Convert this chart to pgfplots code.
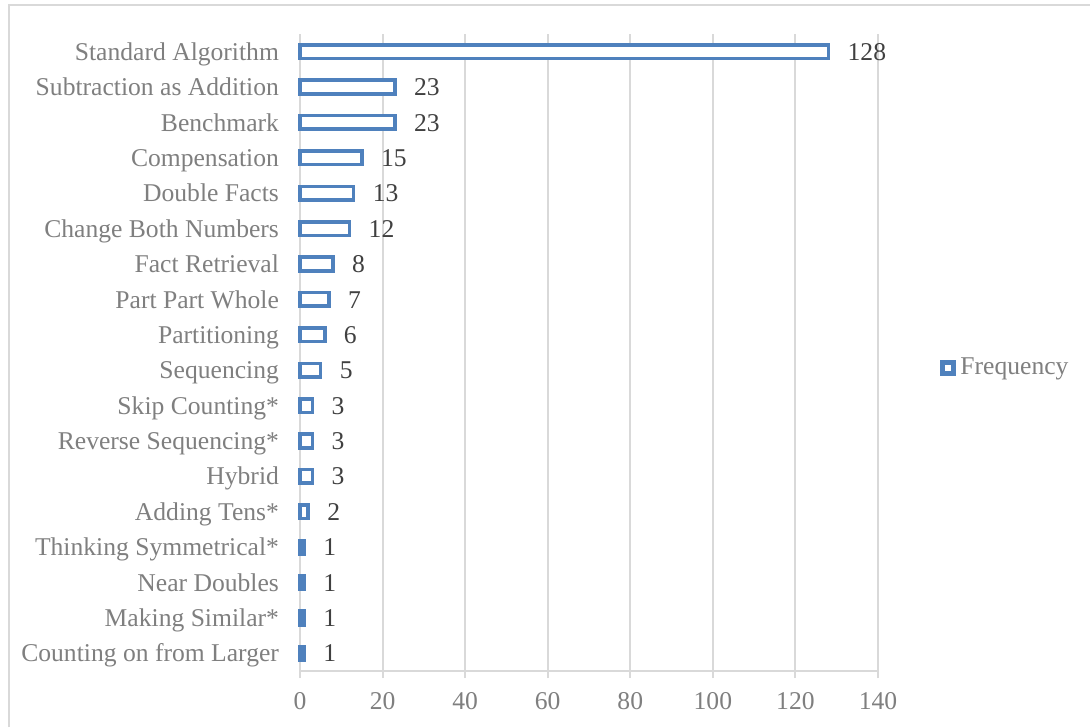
\documentclass[border=0pt]{standalone}
\usepackage{fontspec}
\setmainfont{Liberation Serif}
\usepackage{pgfplots}
\pgfplotsset{compat=1.18}
\definecolor{barblue}{HTML}{4F81BD}
\definecolor{gridgray}{HTML}{D9D9D9}
\definecolor{labgray}{HTML}{7F7F7F}
\definecolor{valgray}{HTML}{404040}
\begin{document}
\begin{tikzpicture}
\useasboundingbox (-150pt,-28pt) rectangle (395pt,335.5pt);
\draw[gridgray, line width=1pt] (-145.5pt,-28pt) -- (-145.5pt,333pt) -- (395pt,333pt);
\begin{axis}[
  at={(0,0)}, anchor=south west,
  scale only axis,
  width=289pt, height=318.5pt,
  xbar,
  bar width=6.8pt,
  xmin=0, xmax=140,
  ymin=-0.5, ymax=17.5,
  xtick={0,20,...,140},
  ytick={0,...,17},
  yticklabels={Counting on from Larger, Making Similar*, Near Doubles, Thinking Symmetrical*, Adding Tens*, Hybrid, Reverse Sequencing*, Skip Counting*, Sequencing, Partitioning, Part Part Whole, Fact Retrieval, Change Both Numbers~, Double Facts, Compensation, Benchmark, Subtraction as Addition, Standard Algorithm},
  font=\fontsize{12.8}{15}\selectfont,
  /pgf/number format/assume math mode=true,
  ticklabel style={text=labgray},
  yticklabel style={xshift=-3.5pt, text height=10.6pt, text depth=2pt},
  xticklabel style={yshift=-3.8pt},
  axis x line*=bottom,
  axis y line*=left,
  x axis line style={draw=gridgray, line width=1pt, -},
  y axis line style={draw=none},
  xmajorgrids,
  grid style={gridgray, line width=1pt},
  tick align=outside,
  major tick length=3.5pt,
  xtick style={gridgray, line width=1pt},
  ytick style={draw=none},
  nodes near coords,
  every node near coord/.append style={anchor=west, inner sep=0pt, xshift=8.7pt, text=valgray, text height=10.6pt, text depth=2pt, font=\fontsize{12.8}{15}\selectfont},
  legend style={at={(1.107,0.476)}, anchor=west, draw=none, fill=none, text=labgray, font=\fontsize{12.8}{15}\selectfont, inner sep=0pt, row sep=0pt},
  legend image code/.code={\draw[barblue, fill=white, line width=2.6pt] (1.0pt,-2.75pt) rectangle (6.5pt,2.75pt);},
  legend cell align=left,
  clip=false,
]
\addplot[draw=barblue, fill=white, line width=1.8pt] coordinates {
  (1,0) (1,1) (1,2) (1,3) (2,4) (3,5) (3,6) (3,7) (5,8) (6,9)
  (7,10) (8,11) (12,12) (13,13) (15,14) (23,15) (23,16) (128,17)
};
\addlegendentry{Frequency}
\end{axis}
\end{tikzpicture}
\end{document}
